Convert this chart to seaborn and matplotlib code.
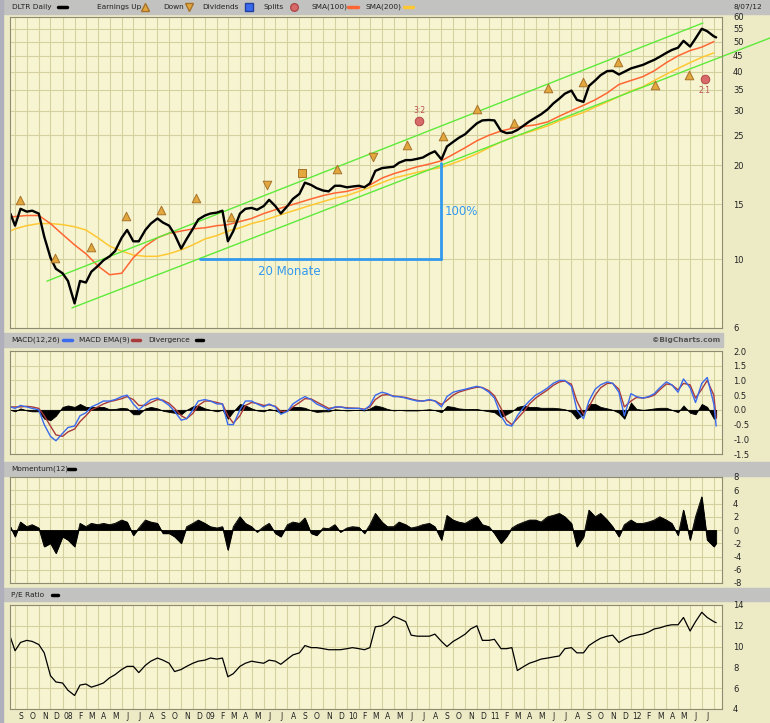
import matplotlib
matplotlib.use("Agg")
import matplotlib.pyplot as plt
from matplotlib.patches import Rectangle
from matplotlib.lines import Line2D
from matplotlib.ticker import FixedLocator, NullLocator
import numpy as np
import pandas as pd
import seaborn as sns

# ---- data (semi-monthly samples) ----
PRICE = [
    14.0, 12.8, 14.5, 14.2, 14.3, 14.0, 11.8, 10.1, 9.3, 9.0,
    8.5, 7.2, 8.5, 8.4, 9.1, 9.5, 9.9, 10.2, 10.6, 11.7,
    12.4, 11.4, 11.4, 12.4, 13.0, 13.5, 13.1, 12.8, 12.0, 10.8,
    11.6, 12.5, 13.4, 13.8, 14.0, 14.1, 14.3, 11.4, 12.3, 14.0,
    14.5, 14.6, 14.4, 14.8, 15.5, 14.8, 14.0, 14.8, 15.6, 16.2,
    17.6, 17.3, 16.9, 16.6, 16.5, 17.2, 17.2, 17.0, 17.1, 17.2,
    17.0, 17.5, 19.2, 19.6, 19.7, 19.8, 20.4, 20.8, 20.8, 21.0,
    21.2, 21.8, 22.2, 20.9, 23.0, 23.8, 24.5, 25.2, 26.2, 27.3,
    27.9, 28.0, 27.9, 25.8, 25.4, 25.5, 26.0, 26.9, 27.7, 28.5,
    29.2, 30.3, 31.6, 32.8, 34.0, 34.8, 32.5, 32.0, 36.0, 37.5,
    39.0, 40.2, 40.3, 39.2, 40.0, 41.0, 41.5, 42.1, 42.9, 43.7,
    44.7, 46.0, 47.0, 47.8, 50.3, 48.2, 51.2, 55.0, 54.0, 52.0,
    51.6,
]
MACD = [
    0.1, 0.05, 0.15, 0.1, 0.05, 0.0, -0.5, -0.9, -1.05, -0.8,
    -0.6, -0.55, -0.2, -0.1, 0.1, 0.2, 0.3, 0.3, 0.35, 0.45,
    0.5, 0.2, 0.0, 0.2, 0.35, 0.4, 0.3, 0.15, -0.05, -0.35,
    -0.3, 0.0, 0.3, 0.35, 0.3, 0.2, 0.2, -0.5, -0.5, 0.0,
    0.3, 0.3, 0.2, 0.1, 0.2, 0.1, -0.15, -0.05, 0.2, 0.35,
    0.45, 0.35, 0.2, 0.1, 0.0, 0.1, 0.1, 0.05, 0.05, 0.05,
    0.0, 0.15, 0.5, 0.6, 0.55, 0.45, 0.45, 0.4, 0.35, 0.3,
    0.3, 0.35, 0.3, 0.1, 0.45, 0.6, 0.65, 0.7, 0.75, 0.8,
    0.75, 0.6, 0.4, -0.2, -0.5, -0.55, -0.2, 0.1, 0.3, 0.5,
    0.6, 0.75, 0.9, 1.0, 1.0, 0.8, 0.0, -0.3, 0.3, 0.7,
    0.85, 0.95, 0.9, 0.6, -0.2, 0.55, 0.45, 0.4, 0.45, 0.55,
    0.75, 0.95, 0.85, 0.6, 1.05, 0.75, 0.25, 0.9, 1.1, 0.2,
    -0.55,
]
MACD_EMA = [
    0.1, 0.1, 0.1, 0.12, 0.1, 0.05, -0.2, -0.55, -0.85, -0.9,
    -0.75, -0.65, -0.4, -0.2, 0.0, 0.1, 0.2, 0.28, 0.32, 0.38,
    0.45, 0.35, 0.15, 0.15, 0.25, 0.35, 0.33, 0.22, 0.05, -0.2,
    -0.3, -0.12, 0.15, 0.3, 0.3, 0.25, 0.2, -0.2, -0.45, -0.2,
    0.15, 0.25, 0.22, 0.15, 0.17, 0.12, -0.05, -0.05, 0.1, 0.25,
    0.38, 0.37, 0.27, 0.15, 0.05, 0.08, 0.1, 0.07, 0.06, 0.05,
    0.02, 0.1, 0.35, 0.5, 0.52, 0.47, 0.45, 0.42, 0.37, 0.32,
    0.3, 0.33, 0.31, 0.18, 0.32, 0.5, 0.6, 0.67, 0.72, 0.77,
    0.76, 0.65, 0.48, 0.05, -0.35, -0.5, -0.3, -0.05, 0.2, 0.4,
    0.53, 0.68, 0.83, 0.95, 0.98, 0.87, 0.3, -0.15, 0.1, 0.5,
    0.75, 0.9, 0.9, 0.7, 0.1, 0.3, 0.42, 0.4, 0.43, 0.5,
    0.68, 0.88, 0.85, 0.68, 0.9, 0.85, 0.4, 0.7, 1.0, 0.5,
    -0.3,
]
MOMENTUM = [
    0.5, -1.0, 1.2, 0.5, 0.8, 0.3, -2.5, -2.0, -3.5, -1.0,
    -1.5, -2.5, 1.0, 0.5, 1.0, 0.8, 1.0, 0.8, 1.0, 1.5,
    1.2, -0.8, 0.3, 1.5, 1.2, 1.0, -0.5, -0.5, -1.0, -2.0,
    0.5, 1.0, 1.5, 1.0, 0.5, 0.3, 0.5, -3.0, 0.5, 2.0,
    1.0, 0.5, -0.3, 0.5, 1.0, -0.5, -1.0, 0.8, 1.2, 1.0,
    1.8, -0.5, -0.8, 0.3, 0.2, 0.8, -0.3, 0.3, 0.5, 0.4,
    -0.5, 0.8, 2.5, 1.2, 0.5, 0.5, 1.2, 0.8, 0.3, 0.5,
    0.8, 1.0, 0.5, -1.5, 2.2, 1.5, 1.2, 1.0, 1.5, 2.0,
    0.8, 0.5, -0.5, -2.0, -1.0, 0.3, 0.8, 1.2, 1.5, 1.5,
    1.2, 2.0, 2.2, 2.5, 2.0, 1.0, -2.5, -1.0, 3.0, 2.0,
    2.5, 1.5, 0.5, -1.0, 0.8, 1.5, 1.0, 1.0, 1.2, 1.5,
    2.0, 1.5, 1.0, -0.8, 3.0, -1.5, 2.0, 5.0, -1.5, -2.5,
    -2.0,
]
PE_RATIO = [
    10.9, 9.6, 10.4, 10.6, 10.5, 10.2, 9.4, 7.2, 6.6, 6.5,
    5.8, 5.3, 6.3, 6.4, 6.1, 6.3, 6.5, 7.0, 7.3, 7.8,
    8.1, 8.1, 7.5, 8.2, 8.6, 8.9, 8.7, 8.4, 7.6, 7.8,
    8.1, 8.4, 8.6, 8.7, 8.9, 8.8, 8.9, 7.1, 7.4, 8.1,
    8.4, 8.6, 8.5, 8.4, 8.7, 8.6, 8.3, 8.8, 9.2, 9.4,
    10.1, 9.9, 9.9, 9.8, 9.7, 9.7, 9.7, 9.8, 9.9, 9.8,
    9.7, 9.9, 11.9, 12.0, 12.3, 12.9, 12.7, 12.4, 11.1, 11.0,
    11.0, 11.0, 11.2, 10.5, 10.0, 10.5, 10.8, 11.2, 11.7, 12.0,
    10.6, 10.6, 10.7, 9.8, 9.8, 9.9, 7.7, 8.1, 8.4, 8.6,
    8.8, 8.9, 9.0, 9.1, 9.8, 9.9, 9.4, 9.4, 10.1, 10.5,
    10.8, 11.0, 11.1, 10.4, 10.7, 11.0, 11.1, 11.2, 11.4, 11.7,
    11.8, 12.0, 12.1, 12.1, 12.8, 11.5, 12.4, 13.3, 12.8, 12.4,
    12.3,
]
# monthly samples of the moving averages
SMA_100 = [
    13.6, 13.7, 13.8, 13.8, 13.0, 12.0, 11.1, 10.4, 9.5, 8.9,
    9.0, 10.1, 11.0, 11.7, 12.1, 12.3, 12.5, 12.6, 12.8, 12.9,
    13.2, 13.5, 14.0, 14.4, 14.8, 15.2, 15.6, 16.0, 16.3, 16.5,
    16.9, 17.3, 18.2, 18.8, 19.3, 19.8, 20.2, 20.7, 21.7, 22.8,
    24.0, 25.0, 25.8, 26.3, 26.7, 27.0, 27.6, 28.8, 30.0, 31.2,
    32.5, 34.2, 36.4, 37.5, 38.6, 40.3, 42.8, 45.0, 46.8, 48.0,
    50.0,
]
SMA_200 = [
    12.3, 12.5, 12.8, 13.0, 13.0, 12.9, 12.7, 12.4, 11.7, 11.0,
    10.6, 10.3, 10.2, 10.2, 10.4, 10.7, 11.1, 11.6, 11.9, 12.3,
    12.6, 13.0, 13.3, 13.7, 14.1, 14.5, 14.9, 15.3, 15.7, 16.0,
    16.5, 17.0, 17.6, 18.2, 18.6, 19.0, 19.4, 19.7, 20.3, 21.0,
    21.8, 22.8, 23.8, 24.6, 25.3, 26.0, 26.8, 27.8, 28.7, 29.6,
    30.8, 32.0, 33.3, 34.7, 35.8, 37.5, 39.3, 41.0, 42.8, 44.5,
    46.0,
]

EARN_UP_DATES = ["2007-09-13", "2007-12-12", "2008-03-13", "2008-06-12", "2008-09-10",
                 "2008-12-09", "2009-03-10", "2009-12-07", "2010-06-04", "2010-09-04",
                 "2010-12-01", "2011-03-07", "2011-06-01", "2011-08-30", "2011-11-28",
                 "2012-03-04", "2012-05-28"]
EARN_UP_PRICES = [15.5, 10.1, 10.9, 13.8, 14.4, 15.7, 13.65, 19.5, 23.3, 24.8,
                  30.4, 27.3, 35.4, 37.0, 43.0, 36.2, 39.0]
EARN_DOWN_DATES = ["2009-06-09", "2010-03-08"]
EARN_DOWN_PRICES = [17.3, 21.3]
EARN_FLAT_DATES = ["2009-09-08"]
EARN_FLAT_PRICES = [18.9]
SPLIT_DATES = ["2010-07-06", "2012-07-09"]
SPLIT_PRICES = [27.8, 37.9]
SPLIT_LABELS = ["3:2", "2:1"]
SPLIT_LABEL_PRICES = [30.1, 34.7]

UPPER_CHANNEL = (["2007-11-22", "2012-07-04"], [8.49, 57.4])
LOWER_CHANNEL = (["2008-01-25", "2012-12-24"], [6.96, 51.4])
SPAN_DATES = ["2008-12-19", "2010-09-01"]
SPAN_LOW, SPAN_HIGH = 10.0, 20.3

PRICE_TICKS = [6, 10, 15, 20, 25, 30, 35, 40, 45, 50, 55, 60]
MACD_TICKS = [-1.5, -1.0, -0.5, 0.0, 0.5, 1.0, 1.5, 2.0]
MOM_TICKS = [-8, -6, -4, -2, 0, 2, 4, 6, 8]
PE_TICKS = [4, 6, 8, 10, 12, 14]
MONTH_LABELS = ["S", "O", "N", "D", "08", "F", "M", "A", "M", "J", "J", "A",
                "S", "O", "N", "D", "09", "F", "M", "A", "M", "J", "J", "A",
                "S", "O", "N", "D", "10", "F", "M", "A", "M", "J", "J", "A",
                "S", "O", "N", "D", "11", "F", "M", "A", "M", "J", "J", "A",
                "S", "O", "N", "D", "12", "F", "M", "A", "M", "J", "J"]

dates = (pd.DatetimeIndex([pd.Timestamp("2007-08-20")])
         .append(pd.date_range("2007-09-01", "2012-08-01", freq="SMS"))
         .append(pd.DatetimeIndex([pd.Timestamp("2012-08-07")])))
sma_dates = (pd.DatetimeIndex([pd.Timestamp("2007-08-20")])
             .append(pd.date_range("2007-09-01", "2012-08-01", freq="MS")))
month_starts = pd.date_range("2007-09-01", "2012-08-01", freq="MS")
mid_months = month_starts[:len(MONTH_LABELS)] + pd.Timedelta(days=15)
divergence = np.array(MACD) - np.array(MACD_EMA)

# ---- styling ----
sns.set_theme(style="white")
plt.rcParams["font.family"] = ["DejaVu Sans"]

W, H = 770, 723
FIG_BG = "#EDEAC6"
PLOT_BG = "#F7F5D1"
GRID = "#D4D0A0"
BAND = "#C2C2C0"
TXT = "#222222"


def fx(px):
    return px / W


def fy(py):
    return 1 - py / H


fig = plt.figure(figsize=(W / 100, H / 100), dpi=100, facecolor=FIG_BG)

# grey header bands
for y0, y1, x1 in [(0, 14, 770), (333, 347, 723), (462, 476, 770), (588, 601, 770)]:
    fig.add_artist(Rectangle((0, fy(y1)), fx(x1), (y1 - y0) / H,
                             transform=fig.transFigure, color=BAND, zorder=0))
fig.add_artist(Rectangle((0, 0), fx(3), 1, transform=fig.transFigure,
                         color="#B0B0BC", zorder=0))


def make_axes(top, bottom):
    ax = fig.add_axes([fx(10), fy(bottom), 712 / W, (bottom - top) / H])
    ax.set_facecolor(PLOT_BG)
    for s in ax.spines.values():
        s.set_color("#8E8C70")
        s.set_linewidth(0.8)
    ax.set_xlim(pd.Timestamp("2007-08-19"), pd.Timestamp("2012-08-22"))
    ax.set_xticks(month_starts)
    ax.set_xticklabels([])
    ax.yaxis.tick_right()
    ax.tick_params(axis="both", which="both", length=0)
    ax.tick_params(axis="y", pad=8, labelsize=6, labelcolor=TXT)
    ax.grid(True, which="major", color=GRID, linewidth=0.8)
    ax.set_axisbelow(True)
    return ax


ax_main = make_axes(17, 328)
ax_macd = make_axes(351, 454)
ax_mom = make_axes(477, 583)
ax_pe = make_axes(605, 709)

# ---- price panel ----
ax_main.set_yscale("log")
sns.lineplot(x=sma_dates, y=SMA_200, ax=ax_main, color="#FFC833", linewidth=1.1)
sns.lineplot(x=sma_dates, y=SMA_100, ax=ax_main, color="#FF6633", linewidth=1.1)
ax_main.plot(pd.to_datetime(UPPER_CHANNEL[0]), UPPER_CHANNEL[1], color="#5EEA3A", lw=1.0)
ax_main.plot(pd.to_datetime(LOWER_CHANNEL[0]), LOWER_CHANNEL[1], color="#5EEA3A", lw=1.0,
             clip_on=False)
sns.lineplot(x=dates, y=PRICE, ax=ax_main, color="black", linewidth=1.7)

span = pd.to_datetime(SPAN_DATES)
ax_main.plot(span, [SPAN_LOW, SPAN_LOW], color="#3399EE", lw=2)
ax_main.plot([span[1], span[1]], [SPAN_LOW, SPAN_HIGH], color="#3399EE", lw=2)
ax_main.text(pd.Timestamp("2010-09-10"), 14.2, "100%", color="#3399EE", fontsize=8.5,
             va="center", ha="left")
ax_main.text(pd.Timestamp("2009-05-17"), 9.15, "20 Monate", color="#3399EE", fontsize=8.5,
             va="center", ha="left")

marker_kw = dict(ax=ax_main, s=38, zorder=5, linewidth=0.7, legend=False)
sns.scatterplot(x=pd.to_datetime(EARN_UP_DATES), y=EARN_UP_PRICES, marker="^",
                color="#E2A83E", edgecolor="#A8722A", **marker_kw)
sns.scatterplot(x=pd.to_datetime(EARN_DOWN_DATES), y=EARN_DOWN_PRICES, marker="v",
                color="#E2A83E", edgecolor="#A8722A", **marker_kw)
sns.scatterplot(x=pd.to_datetime(EARN_FLAT_DATES), y=EARN_FLAT_PRICES, marker="s",
                color="#E2A83E", edgecolor="#A8722A", **marker_kw)
sns.scatterplot(x=pd.to_datetime(SPLIT_DATES), y=SPLIT_PRICES, marker="o",
                color="#D96A6A", edgecolor="#B04848", **marker_kw)
for d, p, lab in zip(SPLIT_DATES, SPLIT_LABEL_PRICES, SPLIT_LABELS):
    ax_main.text(pd.Timestamp(d), p, lab, color="#B85050", fontsize=5.5,
                 ha="center", va="center")

ax_main.set_ylim(6, 60)
ax_main.yaxis.set_major_locator(FixedLocator(PRICE_TICKS))
ax_main.yaxis.set_minor_locator(NullLocator())
ax_main.set_yticklabels([str(t) for t in PRICE_TICKS])

# ---- MACD panel ----
ax_macd.fill_between(dates, 0, divergence, color="black", linewidth=0.6)
sns.lineplot(x=dates, y=MACD_EMA, ax=ax_macd, color="#A83A3A", linewidth=1.0)
sns.lineplot(x=dates, y=MACD, ax=ax_macd, color="#3A6AEE", linewidth=1.0)
ax_macd.set_ylim(-1.5, 2.0)
ax_macd.set_yticks(MACD_TICKS)
ax_macd.set_yticklabels([f"{t:.1f}" for t in MACD_TICKS])

# ---- Momentum panel ----
ax_mom.fill_between(dates, 0, MOMENTUM, color="black", linewidth=0.6)
sns.lineplot(x=dates, y=MOMENTUM, ax=ax_mom, color="black", linewidth=0.6)
ax_mom.set_ylim(-8, 8)
ax_mom.set_yticks(MOM_TICKS)
ax_mom.set_yticklabels([str(t) for t in MOM_TICKS])

# ---- P/E panel ----
sns.lineplot(x=dates, y=PE_RATIO, ax=ax_pe, color="black", linewidth=0.9)
ax_pe.set_ylim(4, 14)
ax_pe.set_yticks(PE_TICKS)
ax_pe.set_yticklabels([str(t) for t in PE_TICKS])
ax_pe.set_xticks(mid_months, minor=True)
ax_pe.set_xticklabels(MONTH_LABELS, minor=True)
ax_pe.tick_params(axis="x", which="minor", length=0, pad=2, labelsize=5.5, labelcolor=TXT)

for ax in (ax_main, ax_macd, ax_mom, ax_pe):
    ax.set_xlabel("")
    ax.set_ylabel("")

# ---- header legends ----
HEAD_FS = 5.3


def head_text(x, y, s, **kw):
    fig.text(fx(x), fy(y), s, fontsize=HEAD_FS, color=TXT, va="center", ha="left", **kw)


def head_dash(x0, x1, y, color):
    fig.add_artist(Line2D([fx(x0), fx(x1)], [fy(y), fy(y)], color=color, lw=2.5,
                          transform=fig.transFigure))


def head_marker(x, y, marker, color, edge):
    fig.add_artist(Line2D([fx(x)], [fy(y)], marker=marker, markersize=5.5,
                          markerfacecolor=color, markeredgecolor=edge, lw=0,
                          transform=fig.transFigure))


head_text(12, 7, "DLTR Daily")
head_dash(58, 67, 7, "black")
head_text(97, 7, "Earnings Up")
head_marker(145, 7, "^", "#E2A83E", "#A8722A")
head_text(163, 7, "Down")
head_marker(189, 7, "v", "#E2A83E", "#A8722A")
head_text(202, 7, "Dividends")
head_marker(249, 7, "s", "#3A6AEE", "#2040A0")
head_text(263, 7, "Splits")
head_marker(294, 7, "o", "#D96A6A", "#B04848")
head_text(311, 7, "SMA(100)")
head_dash(348, 358, 7, "#FF6633")
head_text(366, 7, "SMA(200)")
head_dash(404, 413, 7, "#FFC833")
fig.text(fx(762), fy(7), "8/07/12", fontsize=HEAD_FS, color=TXT, va="center", ha="right")

head_text(11, 340, "MACD(12,26)")
head_dash(63, 72, 340, "#3A6AEE")
head_text(79, 340, "MACD EMA(9)")
head_dash(132, 140, 340, "#A83A3A")
head_text(148, 340, "Divergence")
head_dash(196, 203, 340, "black")
fig.text(fx(720), fy(340), "\u00a9BigCharts.com", fontsize=HEAD_FS, color="#555555",
         va="center", ha="right", fontweight="bold")

head_text(11, 469, "Momentum(12)")
head_dash(68, 75, 469, "black")

head_text(11, 595, "P/E Ratio")
head_dash(52, 58, 595, "black")

fig.savefig("out.png", dpi=100, facecolor=FIG_BG)
